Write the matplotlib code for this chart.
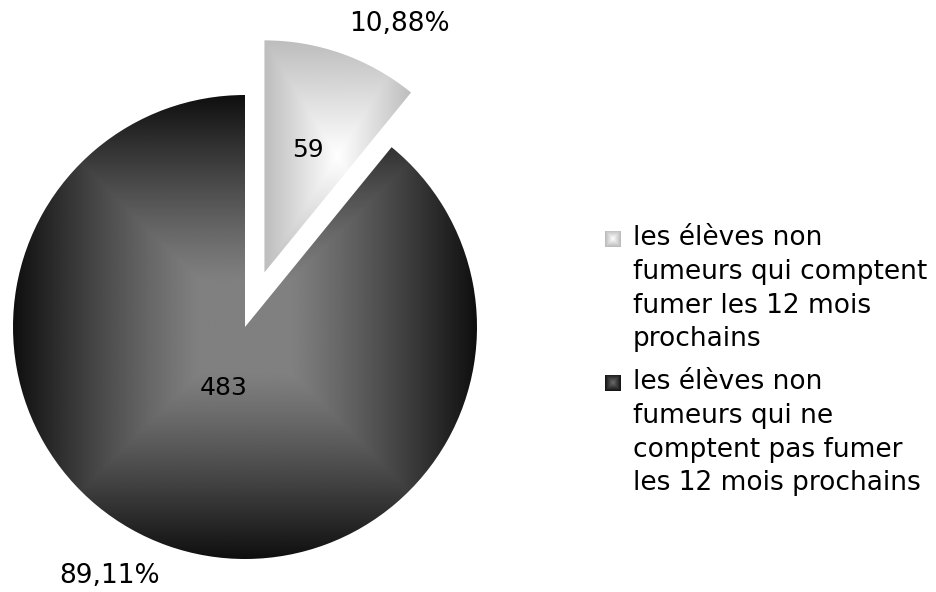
import numpy as np
import matplotlib
matplotlib.use("Agg")
import matplotlib.pyplot as plt

values = [59, 483]
pct_labels = ["10,88%", "89,11%"]
value_labels = ["59", "483"]
legend_labels = [
    "les élèves non\nfumeurs qui comptent\nfumer les 12 mois\nprochains",
    "les élèves non\nfumeurs qui ne\ncomptent pas fumer\nles 12 mois prochains",
]

W, H = 936, 592
fig = plt.figure(figsize=(W / 100, H / 100), dpi=100)
ax = fig.add_axes([0, 0, 1, 1])
ax.axis("off")

# pie center at (245, 327) px, radius 232 px
R = 232.0
cx_px, cy_px = 245, 327

wedges, _ = ax.pie(values, explode=[0.25, 0], startangle=90,
                   counterclock=False, radius=1,
                   wedgeprops=dict(linewidth=0, facecolor="none"))

# (centre grey, edge grey, flat core) for square "from centre" gradient
shades = [(1.0, 0.74, 0.0), (0.50, 0.06, 0.2)]


def square_gradient(axis, ext, c_mid, c_edge, core=0.0, clip=None, z=1):
    n = 400
    xs = np.linspace(-1, 1, n)
    X, Y = np.meshgrid(xs, xs)
    v = np.maximum(np.abs(X), np.abs(Y))
    t = np.clip((v - core) / (1 - core), 0, 1)
    t = t ** 1.15 if core > 0 else t
    img = c_mid + (c_edge - c_mid) * t
    im = axis.imshow(img, extent=ext, cmap="gray", vmin=0, vmax=1,
                     origin="lower", aspect="auto", interpolation="bilinear",
                     zorder=z)
    if clip is not None:
        im.set_clip_path(clip)
    return im


for w, (c0, c1, core) in zip(wedges, shades):
    bb = w.get_path().get_extents()
    square_gradient(ax, (bb.x0, bb.x1, bb.y0, bb.y1), c0, c1, core, clip=w)

value_dist = [0.56, 0.28]
for w, txt, d in zip(wedges, value_labels, value_dist):
    mid = np.deg2rad((w.theta1 + w.theta2) / 2)
    x0, y0 = w.center
    ax.text(x0 + d * np.cos(mid), y0 + d * np.sin(mid), txt,
            ha="center", va="center", fontsize=18, color="black", zorder=5)

for w, txt in zip(wedges, pct_labels):
    mid = np.deg2rad((w.theta1 + w.theta2) / 2 - 9)
    x0, y0 = w.center
    ax.text(x0 + 1.22 * np.cos(mid), y0 + 1.22 * np.sin(mid), txt,
            ha="center", va="center", fontsize=19, color="black", zorder=5)

ax.set_xlim(-cx_px / R, (W - cx_px) / R)
ax.set_ylim(-(H - cy_px) / R, cy_px / R)

# legend drawn by hand so the markers sit on the first line
leg_top = [225, 369]
marker_shades = [(1.0, 0.72), (0.42, 0.07)]
for i, (lab, (c0, c1)) in enumerate(zip(legend_labels, marker_shades)):
    size = 16
    mx, my = 605, leg_top[i] + 6
    e = (mx / W, (mx + size) / W, 1 - (my + size) / H, 1 - my / H)
    lax = fig.add_axes([e[0], e[2], e[1] - e[0], e[3] - e[2]])
    lax.axis("off")
    square_gradient(lax, (0, 1, 0, 1), c0, c1)
    lax.set_xlim(0, 1)
    lax.set_ylim(0, 1)
    fig.text(633 / W, 1 - leg_top[i] / H, lab, ha="left", va="top",
             fontsize=19, linespacing=1.39, color="black")

fig.savefig("out.png", dpi=100, facecolor="white")
